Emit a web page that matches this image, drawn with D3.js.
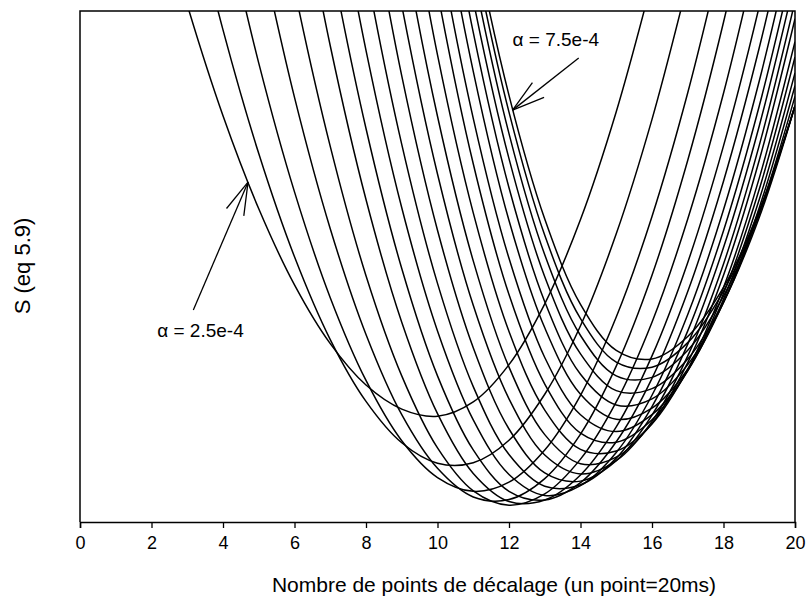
<!DOCTYPE html>
<html><head><meta charset="utf-8">
<script src="https://cdn.jsdelivr.net/npm/d3@7"></script>
<style>body{margin:0;background:#fff}svg{display:block}</style>
</head><body>
<svg id="chart" width="808" height="608"></svg>
<script>
// ---- data ----
const xGrid = [0,1,2,3,4,5,6,7,8,9,10,11,12,13,14,15,16,17,18,19,20];
const xTicks = [0,2,4,6,8,10,12,14,16,18,20];
const alphas = ["2.5e-4","2.75e-4","3.0e-4","3.25e-4","3.5e-4","3.75e-4","4.0e-4","4.25e-4","4.5e-4","4.75e-4","5.0e-4",
                "5.25e-4","5.5e-4","5.75e-4","6.0e-4","6.25e-4","6.5e-4","6.75e-4","7.0e-4","7.25e-4","7.5e-4"];
const _ = null;
const sValues = [
 [_,_,126.2,101.2,79.5,61.3,46.4,34.9,26.8,22.1,20.7,23.5,30.8,42.7,59.2,80.3,105.9,_,_,_,_],
 [_,_,_,124.6,96.3,72.1,51.9,35.7,23.6,15.5,11.5,11.6,16.0,25.0,38.4,56.4,78.8,105.6,_,_,_],
 [_,_,_,_,119.6,89.8,64.6,43.9,27.7,15.9,8.7,6.0,7.8,14.1,24.8,40.1,59.8,84.0,112.6,_,_],
 [_,_,_,_,_,113.9,83.1,57.4,36.7,21.0,10.5,4.9,4.4,8.5,17.2,30.5,48.3,70.8,97.8,129.4,_],
 [_,_,_,_,_,140.8,104.3,73.5,48.2,28.6,14.5,6.1,3.3,5.5,12.3,23.5,39.1,59.3,83.9,113.1,_],
 [_,_,_,_,_,_,129.5,93.2,63.1,39.1,21.2,9.5,4.0,4.3,9.2,18.6,32.5,50.8,73.6,100.9,132.7],
 [_,_,_,_,_,_,151.1,110.8,77.0,49.6,28.6,14.1,6.0,4.3,7.7,15.7,28.1,45.1,66.7,92.8,123.4],
 [_,_,_,_,_,_,_,129.9,92.3,61.5,37.4,20.0,9.3,5.2,7.1,13.6,24.8,40.6,61.1,86.3,116.1],
 [_,_,_,_,_,_,_,149.3,108.1,73.9,46.7,26.5,13.2,7.0,7.3,12.5,22.6,37.4,57.0,81.4,110.5],
 [_,_,_,_,_,_,_,_,124.8,87.3,57.1,34.1,18.2,9.6,8.0,12.0,20.9,34.8,53.7,77.5,106.2],
 [_,_,_,_,_,_,_,_,141.4,101.1,68.1,42.4,24.1,13.1,9.4,12.0,19.7,32.5,50.5,73.7,101.9],
 [_,_,_,_,_,_,_,_,158.7,115.2,79.4,51.1,30.3,17.1,11.4,12.7,19.3,31.2,48.3,70.8,98.5],
 [_,_,_,_,_,_,_,_,_,130.1,91.4,60.5,37.3,21.9,14.2,13.9,19.2,29.9,45.9,67.3,94.0],
 [_,_,_,_,_,_,_,_,_,145.3,103.7,70.1,44.5,27.0,17.4,15.6,20.0,29.6,44.7,65.1,91.0],
 [_,_,_,_,_,_,_,_,_,157.9,114.4,79.0,51.6,32.2,21.0,17.7,21.0,29.6,43.6,63.1,87.9],
 [_,_,_,_,_,_,_,_,_,170.9,125.5,88.2,59.0,38.0,25.0,20.1,22.3,29.9,43.0,61.5,85.4],
 [_,_,_,_,_,_,_,_,_,_,134.3,95.8,65.4,43.1,28.9,22.9,24.1,30.8,42.9,60.4,83.3],
 [_,_,_,_,_,_,_,_,_,_,141.0,102.1,71.1,48.0,32.9,25.7,26.1,31.9,43.1,59.6,81.4],
 [_,_,_,_,_,_,_,_,_,_,147.1,107.6,76.0,52.3,36.5,28.6,28.3,33.6,44.2,60.2,81.5],
 [_,_,_,_,_,_,_,_,_,_,151.6,112.0,80.2,56.1,39.8,31.3,30.3,35.1,45.2,60.6,81.4],
 [_,_,_,_,_,_,_,_,_,_,154.5,115.2,83.5,59.3,42.6,33.6,31.9,36.3,45.9,61.0,81.4]
];
const annotLabels = ["\u03b1 = 2.5e-4", "\u03b1 = 7.5e-4"];
const annotTip  = [[4.70, 66.5], [12.10, 80.6]];
const annotTail = [[3.17, 41.5], [13.95, 90.8]];
const annotText = [[2.16, 36.3], [12.10, 93.2]];
const xLabel = "Nombre de points de d\u00e9calage (un point=20ms)";
const yLabel = "S (eq 5.9)";

// ---- layout ----
const svg = d3.select("#chart");
const L = 80, R = 795, T = 11, B = 522;
const x = d3.scaleLinear().domain([0, 20]).range([L, R]);
const y = d3.scaleLinear().domain([0, 100]).range([B, T]);
const font = "'Liberation Sans', Arial, Helvetica, sans-serif";

svg.append("defs").append("clipPath").attr("id", "plotclip")
  .append("rect").attr("x", L).attr("y", T).attr("width", R - L).attr("height", B - T);

const line = d3.line()
  .defined(d => d[1] !== null)
  .x(d => x(d[0])).y(d => y(d[1]))
  .curve(d3.curveCatmullRom.alpha(0.5));

svg.append("g").attr("clip-path", "url(#plotclip)")
  .selectAll("path").data(sValues).join("path")
  .attr("d", vals => line(xGrid.map((xv, i) => [xv, vals[i]])))
  .attr("fill", "none").attr("stroke", "#000").attr("stroke-width", 1.5);

// frame
svg.append("path")
  .attr("d", `M${L},${B}V${T}H${R}V${B}`)
  .attr("fill", "none").attr("stroke", "#000").attr("stroke-width", 1.5);

// x axis
const xAxis = d3.axisBottom(x).tickValues(xTicks).tickSize(6).tickPadding(8).tickFormat(d3.format("d"));
const gx = svg.append("g").attr("transform", `translate(0,${B})`).call(xAxis);
gx.select(".domain").attr("stroke-width", 1.5);
gx.selectAll(".tick line").attr("stroke-width", 1.3);
gx.selectAll(".tick text").attr("font-family", font).attr("font-size", 18).attr("fill", "#000");

// axis titles
svg.append("text").attr("x", 494).attr("y", 592).attr("text-anchor", "middle")
  .attr("font-family", font).attr("font-size", 21).text(xLabel);
svg.append("text").attr("transform", "translate(30,266) rotate(-90)").attr("text-anchor", "middle")
  .attr("font-family", font).attr("font-size", 22).text(yLabel);

// annotations with open arrowheads
annotLabels.forEach((lab, i) => {
  const tx = x(annotTip[i][0]), ty = y(annotTip[i][1]);
  const sx = x(annotTail[i][0]), sy = y(annotTail[i][1]);
  const ang = Math.atan2(sy - ty, sx - tx);
  const g = svg.append("g").attr("stroke", "#000").attr("stroke-width", 1.3).attr("fill", "none");
  g.append("line").attr("x1", sx).attr("y1", sy).attr("x2", tx).attr("y2", ty);
  [-0.28, 0.28].forEach(da => {
    g.append("line").attr("x1", tx).attr("y1", ty)
      .attr("x2", tx + 34 * Math.cos(ang + da)).attr("y2", ty + 34 * Math.sin(ang + da));
  });
  svg.append("text").attr("x", x(annotText[i][0])).attr("y", y(annotText[i][1]))
    .attr("font-family", font).attr("font-size", 19).text(lab);
});
</script>
</body></html>
